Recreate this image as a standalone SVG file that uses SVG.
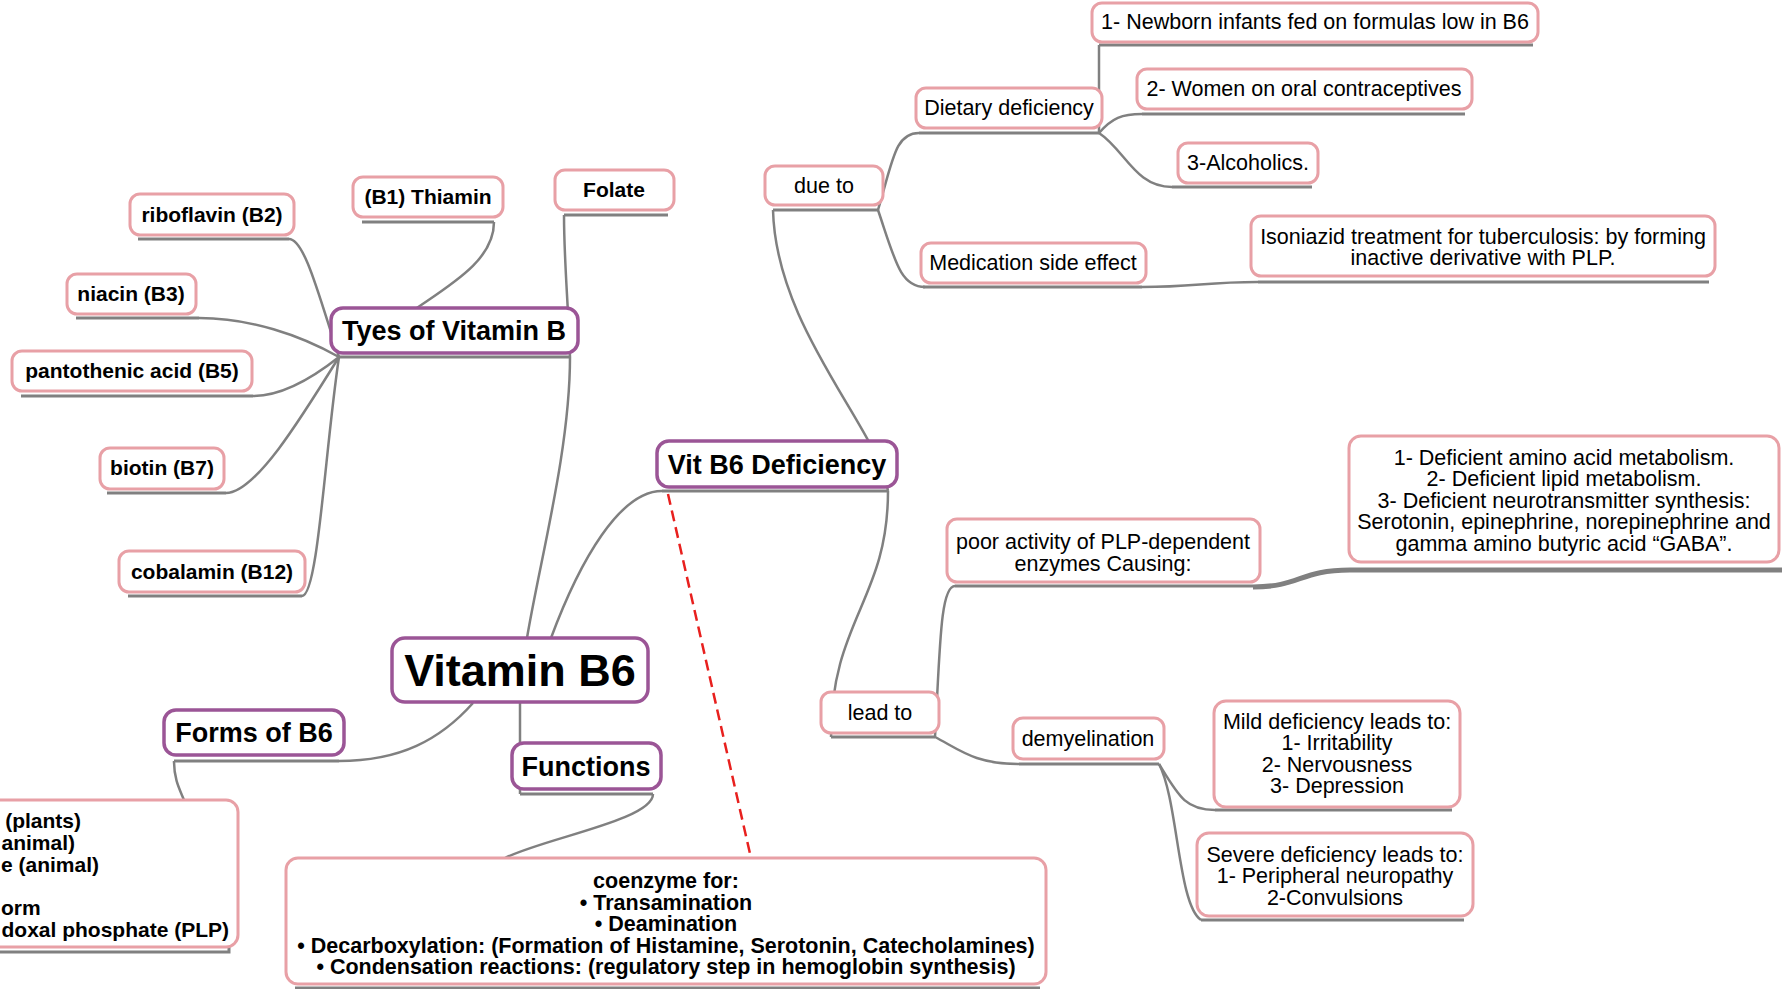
<svg xmlns="http://www.w3.org/2000/svg" width="1782" height="989" viewBox="0 0 1782 989">
<style>
text{font-family:"Liberation Sans",Arial,sans-serif;fill:#000;text-anchor:middle}
.r{font-size:21.5px}
.b{font-size:21px;font-weight:bold}
.bc{font-size:21.5px;font-weight:bold}
.bm{font-size:27px;font-weight:bold}
.e{text-anchor:end}
.leaf{fill:#fff;stroke:#e8a0a6;stroke-width:3}
.main{fill:#fff;stroke:#9b5596;stroke-width:3.5}
.ul{stroke:#808080;stroke-width:3;fill:none}
.c{stroke:#808080;stroke-width:2.5;fill:none}
.thick{stroke:#808080;stroke-width:5;fill:none}
.dash{stroke:#e8201e;stroke-width:2.5;stroke-dasharray:11 6;fill:none}
</style>
<rect width="1782" height="989" fill="#fff"/>
<g id="connectors">
<path class="c" d="M339,357 C320,300 305,239 289,239"/>
<path class="c" d="M339,357 C300,335 250,318 199,318"/>
<path class="c" d="M339,357 C310,380 280,396 253,396"/>
<path class="c" d="M339,357 C300,420 255,493 226,493"/>
<path class="c" d="M339,357 C325,450 318,596 302,596"/>
<path class="c" d="M400,320 C440,290 494,265 494,222"/>
<path class="c" d="M570,357 C568,300 564,260 564,215"/>
<path class="c" d="M527,638 C540,560 570,450 570,357"/>
<path class="c" d="M551,638 C580,560 620,491 662,491"/>
<path class="c" d="M473,703 C440,740 400,761 339,761"/>
<path class="c" d="M520,702 L520,794"/>
<path class="c" d="M653,794 C653,820 545,838 505,858"/>
<path class="c" d="M174,761 C174,780 180,790 184,800"/>
<path class="c" d="M888,491 C880,430 776,330 773,210"/>
<path class="c" d="M888,491 C888,600 831,620 831,737"/>
<path class="c" d="M878,210 C893,160 895,133 919,133"/>
<path class="c" d="M878,210 C895,260 900,287 925,287"/>
<path class="c" d="M1099,133 L1099,45"/>
<path class="c" d="M1099,133 C1112,118 1122,114 1142,114"/>
<path class="c" d="M1099,133 C1125,150 1135,187 1172,187"/>
<path class="c" d="M1142,287 C1195,287 1205,282 1258,282"/>
<path class="c" d="M935,737 C940,650 940,586 955,586"/>
<path class="thick" d="M1253,587 C1300,587 1300,570 1350,570"/>
<path class="c" d="M935,737 C960,750 975,764 1019,764"/>
<path class="c" d="M1159,764 C1178,795 1185,810 1215,810"/>
<path class="c" d="M1159,764 C1178,800 1178,905 1201,920"/>
<path class="dash" d="M668,494 L751,858"/>
</g>
<g id="newborn"><path class="ul" d="M1099,45 H1533"/><rect class="leaf" x="1092" y="3" width="446" height="39" rx="10"/><text class="r" x="1315" y="29">1- Newborn infants fed on formulas low in B6</text></g>
<g id="women"><path class="ul" d="M1142,114 H1465"/><rect class="leaf" x="1137" y="69" width="335" height="40" rx="10"/><text class="r" x="1304" y="96">2- Women on oral contraceptives</text></g>
<g id="alcoholics"><path class="ul" d="M1172,187 H1312"/><rect class="leaf" x="1178" y="143" width="140" height="40" rx="10"/><text class="r" x="1248" y="170">3-Alcoholics.</text></g>
<g id="dietary"><path class="ul" d="M919,133 H1099"/><rect class="leaf" x="916" y="88" width="186" height="40" rx="10"/><text class="r" x="1009" y="115">Dietary deficiency</text></g>
<g id="dueto"><path class="ul" d="M773,210 H878"/><rect class="leaf" x="765" y="166" width="118" height="39" rx="10"/><text class="r" x="824" y="193">due to</text></g>
<g id="medication"><path class="ul" d="M923,287 H1142"/><rect class="leaf" x="921" y="243" width="225" height="40" rx="10"/><text class="r" x="1033" y="270">Medication side effect</text></g>
<g id="isoniazid"><path class="ul" d="M1258,282 H1709"/><rect class="leaf" x="1251" y="216" width="464" height="60" rx="10"/><text class="r" x="1483" y="244">Isoniazid treatment for tuberculosis: by forming</text><text class="r" x="1483" y="265">inactive derivative with PLP.</text></g>
<g id="folate"><path class="ul" d="M564,215 H668"/><rect class="leaf" x="555" y="170" width="119" height="40" rx="10"/><text class="b" x="614" y="197">Folate</text></g>
<g id="thiamin"><path class="ul" d="M362,222 H494"/><rect class="leaf" x="353" y="177" width="150" height="40" rx="10"/><text class="b" x="428" y="204">(B1) Thiamin</text></g>
<g id="riboflavin"><path class="ul" d="M138,239 H289"/><rect class="leaf" x="130" y="194" width="164" height="41" rx="10"/><text class="b" x="212" y="222">riboflavin (B2)</text></g>
<g id="niacin"><path class="ul" d="M76,318 H199"/><rect class="leaf" x="67" y="274" width="129" height="40" rx="10"/><text class="b" x="131" y="301">niacin (B3)</text></g>
<g id="tyes"><path class="ul" d="M339,357 H570"/><rect class="main" x="331" y="308" width="247" height="45" rx="12"/><text class="bm" x="454" y="340">Tyes of Vitamin B</text></g>
<g id="pantothenic"><path class="ul" d="M21,396 H253"/><rect class="leaf" x="12" y="351" width="240" height="40" rx="10"/><text class="b" x="132" y="378">pantothenic acid (B5)</text></g>
<g id="biotin"><path class="ul" d="M107,493 H226"/><rect class="leaf" x="100" y="448" width="124" height="41" rx="10"/><text class="b" x="162" y="475">biotin (B7)</text></g>
<g id="cobalamin"><path class="ul" d="M128,596 H302"/><rect class="leaf" x="119" y="551" width="186" height="41" rx="10"/><text class="b" x="212" y="579">cobalamin (B12)</text></g>
<g id="deficiency"><path class="ul" d="M662,491 H888"/><rect class="main" x="657" y="441" width="240" height="46" rx="12"/><text class="bm" x="777" y="474">Vit B6 Deficiency</text></g>
<g id="deficient"><path class="thick" d="M1350,570 H1782"/><rect class="leaf" x="1349" y="436" width="430" height="126" rx="12"/><text class="r" x="1564" y="464.5">1- Deficient amino acid metabolism.</text><text class="r" x="1564" y="486">2- Deficient lipid metabolism.</text><text class="r" x="1564" y="507.5">3- Deficient neurotransmitter synthesis:</text><text class="r" x="1564" y="529">Serotonin, epinephrine, norepinephrine and</text><text class="r" x="1564" y="550.5">gamma amino butyric acid “GABA”.</text></g>
<g id="poor"><path class="ul" d="M955,586 H1253"/><rect class="leaf" x="947" y="519" width="313" height="63" rx="10"/><text class="r" x="1103" y="549">poor activity of PLP-dependent</text><text class="r" x="1103" y="570.5">enzymes Causing:</text></g>
<g id="vitaminb6"><rect class="main" x="392" y="638" width="256" height="64" rx="13"/><text x="520" y="686" style="font-size:45px;font-weight:bold">Vitamin B6</text></g>
<g id="forms"><path class="ul" d="M174,761 H339"/><rect class="main" x="164" y="710" width="180" height="45" rx="12"/><text class="bm" x="254" y="742">Forms of B6</text></g>
<g id="functions"><path class="ul" d="M520,794 H653"/><rect class="main" x="512" y="743" width="149" height="46" rx="12"/><text class="bm" x="586" y="776">Functions</text></g>
<g id="leadto"><path class="ul" d="M831,737 H935"/><rect class="leaf" x="821" y="692" width="118" height="41" rx="10"/><text class="r" x="880" y="720">lead to</text></g>
<g id="demyelination"><path class="ul" d="M1019,764 H1159"/><rect class="leaf" x="1013" y="718" width="151" height="41" rx="10"/><text class="r" x="1088" y="746">demyelination</text></g>
<g id="mild"><path class="ul" d="M1215,810 H1452"/><rect class="leaf" x="1214" y="701" width="246" height="106" rx="12"/><text class="r" x="1337" y="728.5">Mild deficiency leads to:</text><text class="r" x="1337" y="750">1- Irritability</text><text class="r" x="1337" y="771.5">2- Nervousness</text><text class="r" x="1337" y="793">3- Depression</text></g>
<g id="severe"><path class="ul" d="M1201,920 H1464"/><rect class="leaf" x="1197" y="833" width="276" height="83" rx="12"/><text class="r" x="1335" y="861.5">Severe deficiency leads to:</text><text class="r" x="1335" y="883">1- Peripheral neuropathy</text><text class="r" x="1335" y="904.5">2-Convulsions</text></g>
<g id="formsbox"><path class="ul" d="M0,952 H229 V946"/><rect class="leaf" x="-30" y="800" width="268" height="147" rx="12"/><text class="b e" x="81" y="828">(plants)</text><text class="b e" x="75" y="850">animal)</text><text class="b e" x="99" y="872">e (animal)</text><text class="b" x="1" y="915" style="text-anchor:start">orm</text><text class="b e" x="229" y="937">doxal phosphate (PLP)</text></g>
<g id="coenzyme"><path class="ul" d="M295,988 H1040"/><rect class="leaf" x="286" y="858" width="760" height="126" rx="12"/><text class="bc" x="666" y="888">coenzyme for:</text><text class="bc" x="666" y="909.5">• Transamination</text><text class="bc" x="666" y="931">• Deamination</text><text class="bc" x="666" y="952.5">• Decarboxylation: (Formation of Histamine, Serotonin, Catecholamines)</text><text class="bc" x="666" y="974">• Condensation reactions: (regulatory step in hemoglobin synthesis)</text></g>
</svg>
